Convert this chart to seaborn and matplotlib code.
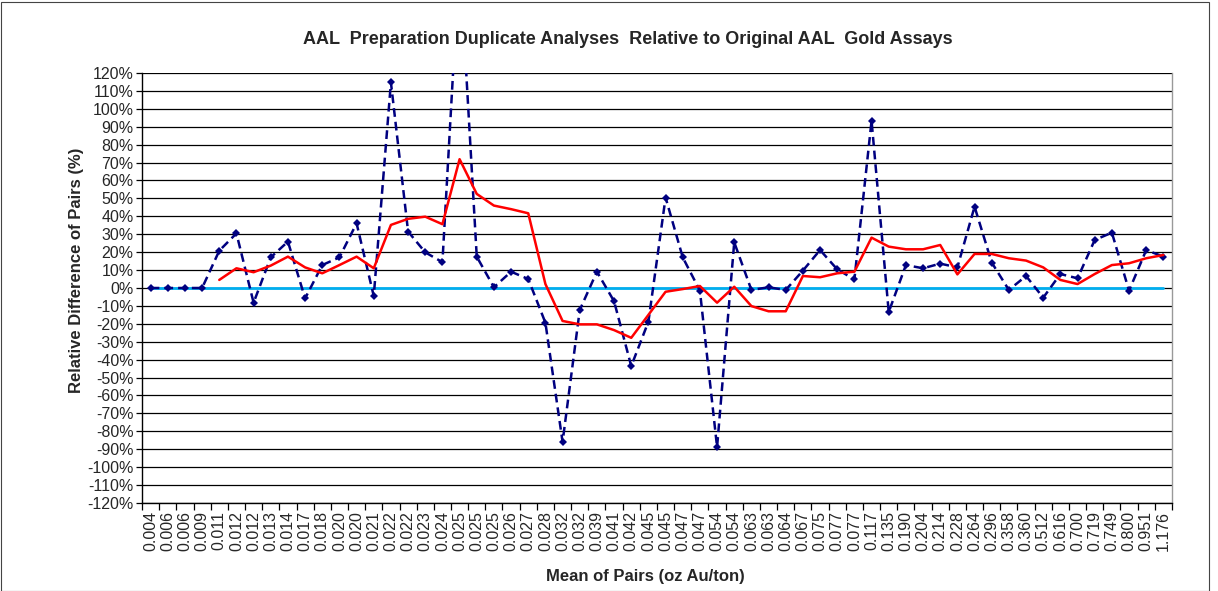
import matplotlib
matplotlib.use("Agg")
import matplotlib.pyplot as plt
import matplotlib.patches as patches
from matplotlib.ticker import FixedLocator, FuncFormatter
import numpy as np
import pandas as pd
import seaborn as sns

sns.set_style("white")
plt.rcParams['font.family'] = ['Liberation Sans', 'DejaVu Sans']

# Mean of pairs (category labels, oz Au/ton)
pair_means = ["0.004", "0.006", "0.006", "0.009", "0.011", "0.012", "0.012", "0.013",
              "0.014", "0.017", "0.018", "0.020", "0.020", "0.021", "0.022", "0.022",
              "0.023", "0.024", "0.025", "0.025", "0.025", "0.026", "0.027", "0.028",
              "0.032", "0.032", "0.039", "0.041", "0.042", "0.045", "0.045", "0.047",
              "0.047", "0.054", "0.054", "0.063", "0.063", "0.064", "0.067", "0.075",
              "0.077", "0.077", "0.117", "0.135", "0.190", "0.204", "0.214", "0.228",
              "0.264", "0.296", "0.358", "0.360", "0.512", "0.616", "0.700", "0.719",
              "0.749", "0.800", "0.951", "1.176"]

# Relative difference of each pair (%)
rel_diff = [0, 0, 0, 0, 20.8, 30.5, -8.2, 17.1, 25.9, -5.8, 12.8, 17.1, 36.1, -4.5,
            114.7, 31.5, 19.9, 14.4, 185.0, 17.5, 0.4, 9.1, 5.0, -19.4, -85.9, -12.3,
            9.1, -7.4, -43.6, -18.8, 50.5, 17.1, -1.5, -88.8, 25.5, -1.1, 0.4, -1.1,
            9.7, 21.2, 10.4, 4.8, 93.3, -13.4, 12.8, 11.0, 13.6, 11.5, 45.4, 14.2,
            -1.1, 6.7, -5.4, 7.8, 5.4, 26.8, 30.9, -1.5, 21.2, 17.5]

# Moving average of relative difference (%)
moving_avg = [np.nan, np.nan, np.nan, np.nan, 4.5, 11.0, 8.8, 12.5, 17.5, 11.5, 8.2,
              12.8, 17.5, 11.0, 35.2, 38.6, 39.8, 35.6, 71.9, 52.5, 46.0, 44.0, 41.7,
              2.2, -18.4, -20.3, -20.3, -23.5, -27.8, -15.0, -2.1, -0.6, 1.1, -8.2, 0.7,
              -10.1, -13.0, -13.0, 6.7, 6.0, 8.2, 9.1, 28.1, 23.1, 21.6, 21.6, 24.0,
              7.6, 19.0, 19.0, 16.6, 15.3, 11.5, 4.5, 2.2, 7.8, 12.8, 13.8, 16.6, 18.4]

zero_ref = [0.0] * len(pair_means)

df = pd.DataFrame({
    "pos": np.arange(len(pair_means)),
    "diff": rel_diff,
    "avg": moving_avg,
    "zero": zero_ref,
})

fig = plt.figure(figsize=(12.18, 5.91), dpi=100)
ax = fig.add_axes([0.1166, 0.1489, 0.8456, 0.7276])

# horizontal grid
for v in range(-120, 121, 10):
    ax.axhline(v, color="black", lw=0.9, zorder=0)

sns.lineplot(data=df, x="pos", y="zero", color="#00AEEF", lw=2, ax=ax, zorder=2)
sns.lineplot(data=df, x="pos", y="diff", color="#000080", lw=1.8, ax=ax,
             linestyle=(0, (3.5, 2)), marker="D", markersize=4,
             markeredgewidth=0, zorder=3)
sns.lineplot(data=df, x="pos", y="avg", color="#FF0000", lw=1.8, ax=ax, zorder=4)

ax.set_xlim(-0.5, len(pair_means) - 0.5)
ax.set_ylim(-120, 120)

ax.set_xticks(df["pos"])
ax.set_xticklabels(pair_means, rotation=90, fontsize=11.5)
ax.xaxis.set_minor_locator(FixedLocator(np.arange(-0.5, len(pair_means), 1)))
ax.tick_params(axis="x", which="major", length=0, pad=6)
ax.tick_params(axis="x", which="minor", length=5, width=0.9, color="black",
               direction="out", bottom=True)

ax.set_yticks(range(-120, 121, 10))
ax.yaxis.set_major_formatter(FuncFormatter(lambda v, p: f"{v:.0f}%"))
ax.tick_params(axis="y", which="major", length=4, width=0.9, color="black",
               direction="out", left=True, labelsize=11.5, pad=2)

ax.spines["top"].set_visible(False)
ax.spines["right"].set_color("#999999")
ax.spines["left"].set_color("black")
ax.spines["bottom"].set_color("black")
for s in ax.spines.values():
    s.set_linewidth(1.0)

ax.set_xlabel("")
ax.set_ylabel("")
fig.text(645 / 1218, 1 - 577 / 591, "Mean of Pairs (oz Au/ton)", fontsize=12,
         fontweight="bold", ha="center", va="center")
fig.text(77 / 1218, 1 - 270 / 591, "Relative Difference of Pairs (%)", fontsize=12,
         fontweight="bold", ha="center", va="center", rotation=90)
fig.text(628 / 1218, 1 - 40 / 591,
         "AAL  Preparation Duplicate Analyses  Relative to Original AAL  Gold Assays",
         fontsize=13, fontweight="bold", ha="center", va="center")

fig.patches.append(patches.Rectangle((0.001, 0.0), 0.992, 0.997, transform=fig.transFigure,
                                     fill=False, edgecolor="#444444", lw=0.8))

fig.savefig("out.png", dpi=100)
